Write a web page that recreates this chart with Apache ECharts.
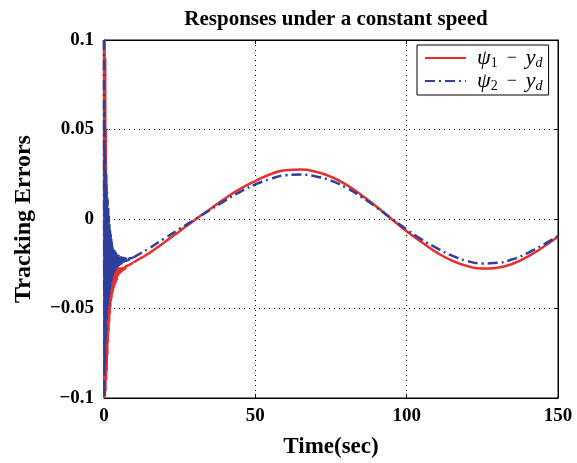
<!DOCTYPE html>
<html>
<head>
<meta charset="utf-8">
<script src="https://cdn.jsdelivr.net/npm/echarts@6/dist/echarts.min.js"></script>
<style>html,body{margin:0;padding:0;background:#fff;}#c{width:577px;height:463px;}</style>
</head>
<body>
<div id="c"></div>
<script>
// time samples (s) during the initial transient
var oscTime = [0,0.1,0.2,0.3,0.4,0.5,0.6,0.7,0.8,0.9,1.0,1.1,1.2,1.3,1.4,1.5,1.6,1.7,1.8,1.9,2.0,2.1,2.2,2.3,2.4,2.5,2.6,2.7,2.8,2.9,3.0,3.1,3.2,3.3,3.4,3.5,3.6,3.7,3.8,3.9,4.0,
  4.2,4.4,4.6,4.8,5.0,5.2,5.4,5.6,5.8,6.0,6.2,6.4,6.6,6.8,7.0,7.2,7.4,7.6,7.8,8.0,8.2,8.4,8.6,8.8,9.0,9.2,9.4,9.6,9.8];
var redOsc = [0.1,-0.1,0.1,-0.099,0.09,-0.096,0.05,-0.09,0.025,-0.085,0.01,-0.076,0.0,-0.069,-0.007,-0.063,-0.012,-0.058,-0.015,-0.053,-0.018,-0.049,-0.0195,-0.046,-0.021,-0.044,-0.0225,-0.042,-0.0235,-0.0405,-0.025,-0.039,-0.0255,-0.038,-0.026,-0.037,-0.0263,-0.036,-0.0266,-0.0355,-0.027,
  -0.034,-0.027,-0.032,-0.027,-0.0308,-0.027,-0.0302,-0.027,-0.0296,-0.027,-0.029,-0.0268,-0.0285,-0.0266,-0.028,-0.0264,-0.0275,-0.0262,-0.027,-0.026,-0.0265,-0.0256,-0.026,-0.0252,-0.0255,-0.0248,-0.025,-0.0244,-0.0244];
var blueOsc = [0.1,-0.1,0.06,-0.082,0.035,-0.07,0.026,-0.062,0.02,-0.056,0.015,-0.051,0.011,-0.048,0.006,-0.045,0.002,-0.042,-0.002,-0.0395,-0.006,-0.0375,-0.0085,-0.036,-0.011,-0.0345,-0.013,-0.0333,-0.0145,-0.032,-0.0163,-0.031,-0.017,-0.03,-0.0175,-0.0292,-0.018,-0.0287,-0.0185,-0.0282,-0.019,
  -0.0275,-0.0195,-0.0268,-0.02,-0.0262,-0.0205,-0.0257,-0.0208,-0.0252,-0.021,-0.0248,-0.0212,-0.0244,-0.0214,-0.024,-0.0216,-0.0237,-0.0217,-0.0234,-0.0218,-0.0231,-0.0219,-0.0228,-0.0219,-0.0225,-0.0218,-0.0222,-0.0216,-0.0218];
// time samples (s) for the slow part
var slowTime = [10,15,20,25,30,35,40,45,50,55,60,65,70,75,80,85,90,95,100,105,110,115,120,125,130,135,140,145,150];
var redSlow = [-0.024,-0.019,-0.013,-0.0068,-0.0005,0.0055,0.0115,0.0168,0.0212,0.025,0.0273,0.0276,0.0264,0.0236,0.0192,0.0134,0.007,0.0,-0.0068,-0.013,-0.0188,-0.0233,-0.0263,-0.0277,-0.0272,-0.025,-0.021,-0.0158,-0.0098];
var blueSlow = [-0.0212,-0.0163,-0.0108,-0.0055,-0.0003,0.005,0.0103,0.0152,0.0193,0.0224,0.0244,0.0248,0.0238,0.0214,0.0175,0.0124,0.0065,0.0003,-0.0058,-0.0115,-0.0163,-0.0205,-0.0235,-0.0248,-0.0245,-0.0225,-0.019,-0.0145,-0.0095];
var xTicks = [0,50,100,150];
var yTicks = [-0.1,-0.05,0,0.05,0.1];

function pairs(t,v){
  var out=[];
  for(var i=0;i<t.length;i++) out.push([t[i],v[i]]);
  return out;
}
function slowPairs(tOsc,vOsc,t,v){
  var n=tOsc.length-1;
  return [[tOsc[n],vOsc[n]]].concat(pairs(t,v));
}
var FONT = '"Liberation Serif","Times New Roman",serif';
var RED = '#e8302a', BLUE = '#2c3f9c';
var chart = echarts.init(document.getElementById('c'));
var gridLine = {show:true, lineStyle:{color:'#000', type:[1,4], width:1}};
var tick = {show:true, inside:true, length:4, lineStyle:{color:'#000'}};
var legendNames = {'psi1':'{i|ψ}{s|1}{n|  −  }{i|y}{si|d}', 'psi2':'{i|ψ}{s|2}{n|  −  }{i|y}{si|d}'};
var redLine = {color:RED, width:2.5};
var blueLine = {color:BLUE, width:2.5, type:[10,4,2,4]};
chart.setOption({
  animation:false,
  backgroundColor:'#fff',
  title:{text:'Responses under a constant speed', left:331, top:4, textAlign:'center',
    textStyle:{fontFamily:FONT, fontWeight:'bold', fontSize:21, color:'#000'}},
  grid:{left:104, right:19, top:40, bottom:65, show:true, borderColor:'#000', borderWidth:1, containLabel:false, outerBoundsMode:'none'},
  legend:{orient:'vertical', left:417, top:45, backgroundColor:'#fff', borderColor:'#000', borderWidth:1,
    padding:[2,6,2,7], itemWidth:41, itemHeight:14, itemGap:0,
    itemStyle:{opacity:0},
    formatter:function(n){return legendNames[n];},
    textStyle:{fontFamily:FONT, padding:[0,0,0,6], rich:{
      i:{fontFamily:FONT, fontStyle:'italic', fontSize:22, color:'#000', lineHeight:24},
      n:{fontFamily:FONT, fontSize:18, color:'#000', lineHeight:24},
      s:{fontFamily:FONT, fontSize:14, color:'#000', lineHeight:24, verticalAlign:'bottom', padding:[8,0,0,0]},
      si:{fontFamily:FONT, fontStyle:'italic', fontSize:14, color:'#000', lineHeight:24, verticalAlign:'bottom', padding:[8,0,0,0]}
    }},
    data:['psi1','psi2']},
  xAxis:[{type:'value', min:xTicks[0], max:xTicks[xTicks.length-1], interval:50,
    name:'Time(sec)', nameLocation:'middle', nameGap:38,
    nameTextStyle:{fontFamily:FONT, fontWeight:'bold', fontSize:23, color:'#000'},
    axisLine:{show:true, onZero:false, lineStyle:{color:'#000'}}, axisTick:tick, splitLine:gridLine,
    axisLabel:{fontFamily:FONT, fontWeight:'bold', fontSize:19, color:'#000', margin:9}},
   {type:'value', position:'top', min:0, max:150, interval:50, axisLine:{show:true,onZero:false,lineStyle:{color:'#000'}}, axisTick:tick, axisLabel:{show:false}, splitLine:{show:false}}],
  yAxis:[{type:'value', min:yTicks[0], max:yTicks[yTicks.length-1], interval:0.05,
    name:'Tracking Errors', nameLocation:'middle', nameGap:68,
    nameTextStyle:{fontFamily:FONT, fontWeight:'bold', fontSize:24, color:'#000'},
    axisLine:{show:true, onZero:false, lineStyle:{color:'#000'}}, axisTick:tick, splitLine:gridLine,
    axisLabel:{fontFamily:FONT, fontWeight:'bold', fontSize:19, color:'#000', margin:10,
      formatter:function(v){return v<0 ? '\u2212'+(-v) : String(v);}}},
   {type:'value', position:'right', min:-0.1, max:0.1, interval:0.05, axisLine:{show:true,onZero:false,lineStyle:{color:'#000'}}, axisTick:tick, axisLabel:{show:false}, splitLine:{show:false}}],
  series:[
    {name:'psi1', type:'line', symbol:'none', data:pairs(oscTime,redOsc),
      lineStyle:redLine, itemStyle:{color:RED}, z:2},
    {name:'psi1', type:'line', symbol:'none', smooth:0.5, data:slowPairs(oscTime,redOsc,slowTime,redSlow),
      lineStyle:redLine, itemStyle:{color:RED}, z:2},
    {name:'psi2', type:'line', symbol:'none', data:pairs(oscTime,blueOsc),
      lineStyle:blueLine, itemStyle:{color:BLUE}, z:3},
    {name:'psi2', type:'line', symbol:'none', smooth:0.5, data:slowPairs(oscTime,blueOsc,slowTime,blueSlow),
      lineStyle:blueLine, itemStyle:{color:BLUE}, z:3}
  ]
});
</script>
</body>
</html>
